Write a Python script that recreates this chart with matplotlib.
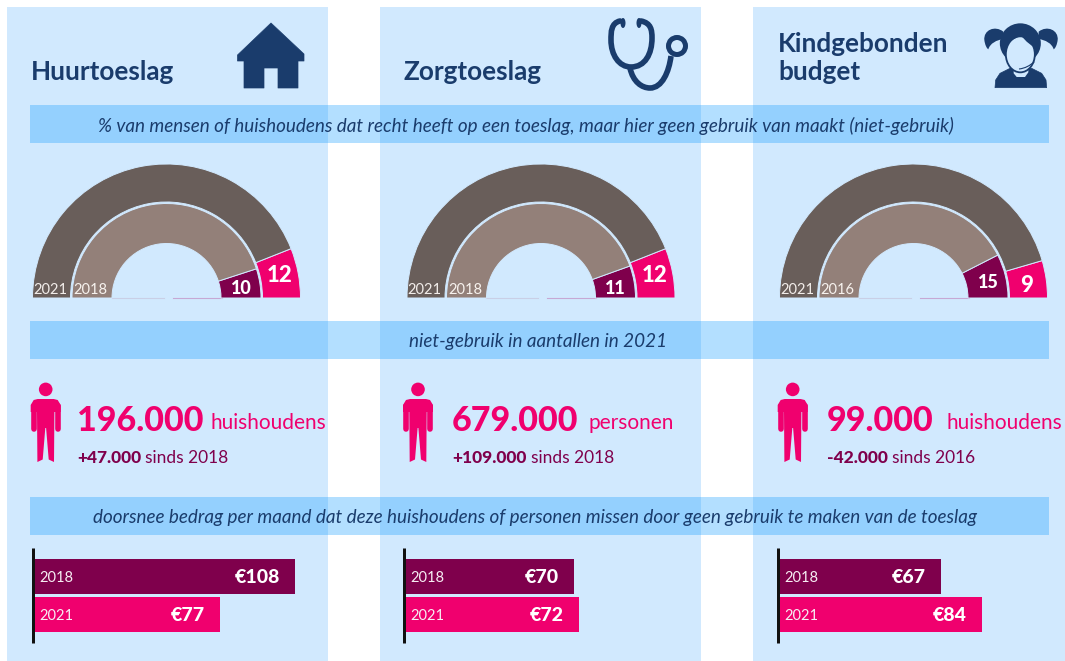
import matplotlib
matplotlib.use('Agg')
import matplotlib.pyplot as plt
from matplotlib.patches import Rectangle, Circle, Ellipse, Polygon, PathPatch
from matplotlib.path import Path

W, H = 1065, 661
plt.rcParams['font.family'] = ['Lato', 'DejaVu Sans']

# data
titles = ['Huurtoeslag', 'Zorgtoeslag', 'Kindgebonden\nbudget']
outer_years = ['2021', '2021', '2021']
inner_years = ['2018', '2018', '2016']
outer_values = [12, 12, 9]
inner_values = [10, 11, 15]
counts = ['196.000', '679.000', '99.000']
units = ['huishoudens', 'personen', 'huishoudens']
changes = ['+47.000', '+109.000', '-42.000']
since = ['sinds 2018', 'sinds 2018', 'sinds 2016']
bar_old = [108, 70, 67]
bar_new = [77, 72, 84]
bar_years = ['2018', '2021']
bands = ['% van mensen of huishoudens dat recht heeft op een toeslag, maar hier geen gebruik van maakt (niet-gebruik)',
         'niet-gebruik in aantallen in 2021',
         'doorsnee bedrag per maand dat deze huishoudens of personen missen door geen gebruik te maken van de toeslag']

# layout in pixels
panel_x = [(7, 328), (380, 701), (753, 1065)]
title_x = [31, 403, 778]
pie_cx = [166.5, 541, 913.5]
person_x = [45.7, 418, 792.7]
count_x = [77, 452, 827]
unit_x = [211, 588, 946]
change_x = [77, 452, 827]
bar_x = [34, 405, 779]
band_y = [(105, 143), (321, 359), (497, 535)]
band_cx = [526, 538.5, 535]
pie_y = 298
px_per_euro = 2.416

NAVY = '#1A3C6C'
PINK = '#F0006E'
PURPLE = '#7F004C'
BROWN = '#695E5A'
TAUPE = '#938079'
PANEL = '#D1E9FE'
BAND = '#1A9EFF'
PT = 72 / 100

fig = plt.figure(figsize=(W / 100, H / 100), dpi=100, facecolor='white')
bg = fig.add_axes([0, 0, 1, 1])
bg.set_xlim(0, W)
bg.set_ylim(H, 0)
bg.axis('off')


def px_axes(x0, y0, x1, y1):
    a = fig.add_axes([x0 / W, 1 - y1 / H, (x1 - x0) / W, (y1 - y0) / H])
    a.patch.set_alpha(0)
    return a


def house(ax):
    ax.add_patch(Polygon([(271, 23), (304, 54), (304, 61), (298, 61), (298, 88), (278, 88), (278, 68),
                          (264, 68), (264, 88), (244, 88), (244, 61), (237.5, 61), (237.5, 55)],
                         closed=True, fc=NAVY, ec=NAVY, lw=0.5, joinstyle='round', zorder=4))


def stethoscope(ax):
    lw = 5.6 * PT
    verts = [(620, 21), (611, 23), (611, 32), (611, 40), (611, 55), (619, 67), (631, 67),
             (645, 67), (652, 54), (652, 38), (652, 30), (651, 23), (641, 21)]
    codes = [Path.MOVETO] + [Path.CURVE4] * 12
    ax.add_patch(PathPatch(Path(verts, codes), fc='none', ec=NAVY, lw=lw, capstyle='round', zorder=4))
    verts = [(630, 68), (633, 82), (642, 88), (650, 88), (662, 88), (669, 72), (671, 56)]
    codes = [Path.MOVETO] + [Path.CURVE4] * 6
    ax.add_patch(PathPatch(Path(verts, codes), fc='none', ec=NAVY, lw=lw, capstyle='butt', zorder=4))
    ax.add_patch(Circle((677, 46), 8.5, fc=PANEL, ec=NAVY, lw=5 * PT, zorder=5))
    ax.add_patch(Ellipse((623, 23), 5, 10, fc=NAVY, ec='none', zorder=5))
    ax.add_patch(Ellipse((639, 23), 5, 10, fc=NAVY, ec='none', zorder=5))


def girl(ax):
    # sketched in 3x crop units
    def g(x, y):
        return (975 + x / 3, 15 + y / 3)
    for side in (1, -1):
        def m(x, y):
            return g(138 + side * (x - 138), y)
        tail = [m(85, 50), m(60, 30), m(25, 45), m(28, 75), m(30, 90), m(35, 100), m(40, 103), m(45, 85), m(65, 75),
                m(85, 72), m(85, 50)]
        codes = [Path.MOVETO] + [Path.CURVE4] * 9 + [Path.CLOSEPOLY]
        ax.add_patch(PathPatch(Path(tail, codes), fc=NAVY, ec='none', zorder=4))
    ax.add_patch(Ellipse(g(136, 85), 41, 40, fc=NAVY, ec='none', zorder=4))
    body = [g(60, 218), g(62, 195), g(75, 175), g(105, 160), g(170, 160), g(200, 175), g(213, 195), g(215, 218)]
    ax.add_patch(Polygon(body, closed=True, fc=NAVY, ec=NAVY, lw=0.5, joinstyle='round', zorder=4))
    neck = [g(116, 150), g(116, 175), g(125, 186), g(150, 186), g(160, 172), g(160, 150)]
    ax.add_patch(Polygon(neck, closed=True, fc=PANEL, ec='none', zorder=5))
    ax.add_patch(Ellipse(g(136, 118), 29, 36, fc=PANEL, ec=NAVY, lw=1.3, zorder=5))
    bangs = [g(92, 100), g(105, 78), g(130, 65), g(138, 62), g(155, 80), g(180, 100), g(175, 60), g(100, 60)]
    ax.add_patch(Polygon(bangs, closed=True, fc=NAVY, ec='none', zorder=6))
    chin = [g(132, 162), g(150, 160), g(165, 152), g(178, 140)]
    ax.add_patch(PathPatch(Path(chin, [Path.MOVETO, Path.CURVE4, Path.CURVE4, Path.CURVE4]), fc='none', ec=NAVY,
                           lw=0.8, zorder=6))


def person(ax, cx):
    ax.add_patch(Circle((cx, 389.4), 6.8, fc=PINK, ec='none', zorder=4))
    pts = [(-8, 399), (8, 399), (12, 400), (15, 405), (15, 412), (8.7, 412), (8.3, 462), (3, 459.5), (0.4, 428),
           (-0.4, 428), (-3, 459.5), (-8.3, 462), (-8.7, 412), (-15, 412), (-15, 405), (-12, 400)]
    ax.add_patch(Polygon([(cx + p[0], p[1]) for p in pts], closed=True, fc=PINK, ec='none', zorder=4))
    for s in (-1, 1):
        ax.plot([cx + s * 12, cx + s * 12], [406, 429], color=PINK, lw=5.6 * PT, solid_capstyle='round', zorder=4)


def half_ring(cx, radius, width, value, rest_color, value_color):
    a = px_axes(cx - radius, pie_y - radius, cx + radius, pie_y + radius)
    wedges, _ = a.pie([value, 100 - value, 100], colors=[value_color, rest_color, 'none'], startangle=0,
                      radius=radius, wedgeprops=dict(width=width, edgecolor=PANEL, linewidth=0.7))
    wedges[2].set_edgecolor('none')
    a.set_xlim(-radius, radius)
    a.set_ylim(-radius, radius)
    return a


# panels and bands
for x0, x1 in panel_x:
    bg.add_patch(Rectangle((x0, 7), x1 - x0, H - 7, fc=PANEL, ec='none', zorder=1))
for (y0, y1), cx, txt in zip(band_y, band_cx, bands):
    bg.add_patch(Rectangle((30, y0), 1019, y1 - y0, fc=BAND, alpha=0.33, ec='none', zorder=2))
    bg.text(cx, (y0 + y1) / 2 + 1.5, txt, ha='center', va='center', style='italic', color=NAVY, fontsize=13.6,
            zorder=3)

house(bg)
stethoscope(bg)
girl(bg)

for i in range(3):
    ty = 72 if i < 2 else 58
    bg.text(title_x[i], ty, titles[i], ha='left', va='center', color=NAVY, fontsize=18.8, fontweight='bold',
            linespacing=1.15, zorder=3)

    # half donut, outer then inner ring
    cx = pie_cx[i]
    half_ring(cx, 134, 38, outer_values[i], BROWN, PINK)
    half_ring(cx, 94.5, 40, inner_values[i], TAUPE, PURPLE)
    bg.plot([cx - 55, cx - 3], [pie_y, pie_y], color='#C9CFE6', lw=0.8, zorder=3)
    bg.plot([cx + 6, cx + 55], [pie_y, pie_y], color='#C6A8D4', lw=0.8, zorder=3)

    top = px_axes(0, 0, W, H)
    top.set_xlim(0, W)
    top.set_ylim(H, 0)
    top.axis('off')
    top.text(cx - 116.5, 289.5, outer_years[i], ha='center', va='center', color='#F2EDEA', fontsize=10.5)
    top.text(cx - 76, 289.5, inner_years[i], ha='center', va='center', color='#F7F2EE', fontsize=10.5)
    top.text(cx + 113.5, pie_y - 23 if outer_values[i] > 9 else pie_y - 13, str(outer_values[i]), ha='center',
             va='center', color='white', fontsize=16, fontweight='black')
    top.text(cx + 74.5, pie_y - 10 if inner_values[i] < 15 else pie_y - 16, str(inner_values[i]), ha='center',
             va='center', color='white', fontsize=13, fontweight='black')

    # counts
    person(bg, person_x[i])
    bg.text(count_x[i], 421, counts[i], ha='left', va='center', color=PINK, fontsize=24.5, fontweight='black',
            zorder=3)
    bg.text(unit_x[i], 423, units[i], ha='left', va='center', color=PINK, fontsize=15, zorder=3)
    c = bg.text(change_x[i], 458, changes[i], ha='left', va='center', color=PURPLE, fontsize=12.5, fontweight='black',
                zorder=3)
    bg.annotate(since[i], xy=(1, 0), xycoords=c, xytext=(3, 0), textcoords='offset points', ha='left', va='bottom',
                color=PURPLE, fontsize=12.5, zorder=3)

    # bars
    b = px_axes(bar_x[i], 548, bar_x[i] + 300, 643)
    vals = [bar_old[i], bar_new[i]]
    rects = b.barh([0, 1], vals, height=0.92, color=[PURPLE, PINK])
    b.set_xlim(0, 300 / px_per_euro)
    b.set_ylim(1.75, -0.75)
    b.set_xticks([])
    b.set_yticks([])
    for s in ['top', 'right', 'bottom']:
        b.spines[s].set_visible(False)
    b.spines['left'].set_linewidth(3 * PT)
    b.spines['left'].set_color('#111111')
    b.spines['left'].set_position(('outward', 1.5 * PT))
    b.spines['left'].set_capstyle('butt')
    for j, v in enumerate(vals):
        b.annotate(bar_years[j], xy=(0, j), xytext=(5 * PT, -1 * PT), textcoords='offset points', ha='left',
                   va='center', color='#F7EDF3', fontsize=10.5)
        b.annotate('€' + str(v), xy=(v, j), xytext=(-15 * PT, -1 * PT), textcoords='offset points', ha='right',
                   va='center', color='white', fontsize=14, fontweight='black')

fig.savefig('out.png', dpi=100, facecolor='white')
